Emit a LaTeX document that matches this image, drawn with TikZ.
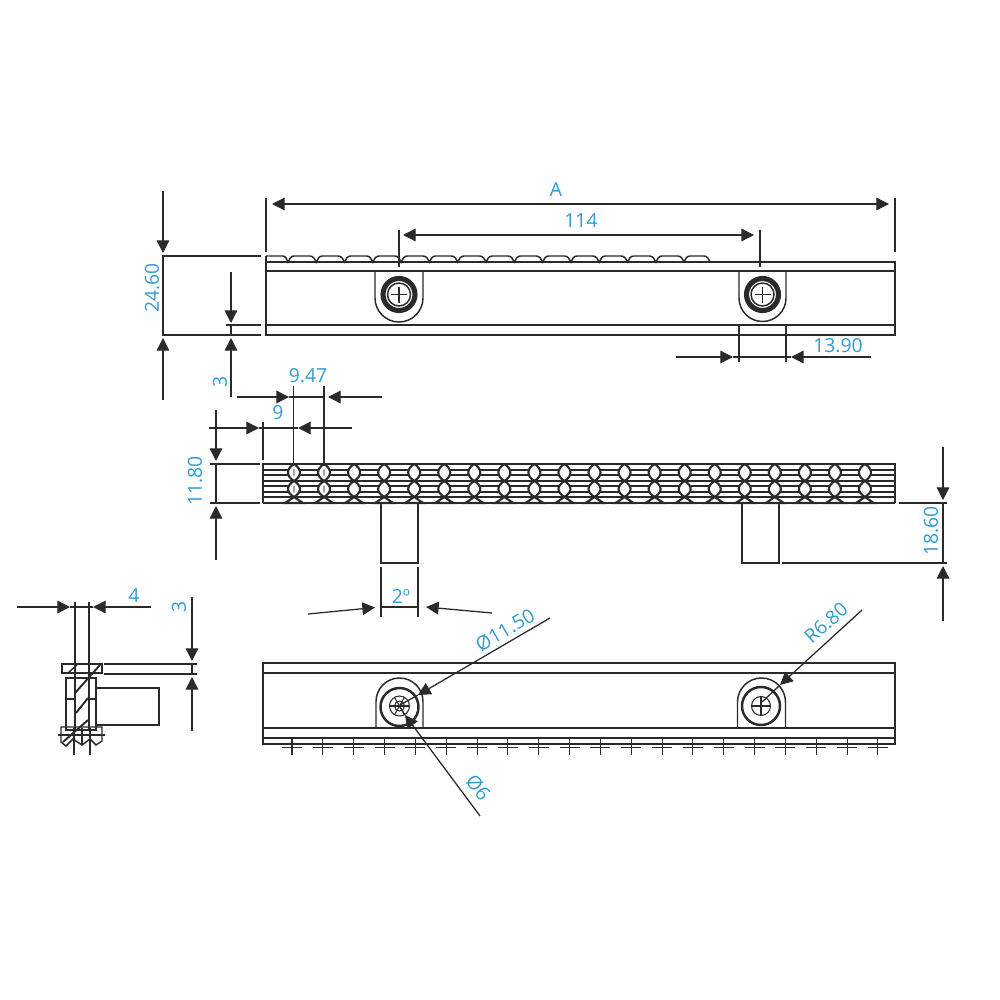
\documentclass[tikz,border=0pt]{standalone}
\usepackage{fontspec}
\setmainfont{Open Sans}
\usetikzlibrary{arrows.meta}
\definecolor{dimblue}{HTML}{2F9BD3}
\definecolor{ink}{HTML}{2A2A2A}
\tikzset{
  part/.style={draw=ink, line width=0.42pt},
  thin part/.style={draw=ink, line width=0.3pt},
  bead/.style={draw=ink, fill=white, line width=0.6pt},
  dimline/.style={draw=ink, line width=0.36pt},
  dimarrow/.style={dimline, -{Triangle[length=3.6pt,width=3.6pt]}},
  dimtext/.style={text=dimblue, font=\fontsize{5.5}{6}\selectfont, inner sep=0pt},
}
\begin{document}
\begin{tikzpicture}[x=0.01cm,y=-0.01cm]
\useasboundingbox (0,0) rectangle (1000,1000);
% top view
\draw[part] (710,262)-- (895,262)-- (895,335)-- (266,335)-- (266,256);
\draw[part] (266,262)-- (895,262);
\draw[part] (266,271)-- (895,271);
\draw[part] (266,325)-- (895,325);
\draw[part] (266,256)-- (283,256) .. controls (285,256) and (287,259) .. (288,262);
\foreach \n [evaluate=\n as \bx using 288+28.3*\n] in {0,...,13}{
  \draw[part] (\bx,262) .. controls ({\bx+1},259) and ({\bx+3},256) .. ({\bx+6},256)-- ({\bx+22},256) .. controls ({\bx+25},256) and ({\bx+27},259) .. ({\bx+28.3},262);
  \fill[ink] (\bx,262) circle (1.6);
}
\draw[part] (684,262) .. controls (685,259) and (687,256) .. (690,256)-- (704,256) .. controls (707,256) and (709,259) .. (710,262);
\foreach \sx/\sr in {399/24,762.5/23.5}{
  \draw[part] ({\sx-\sr},271)-- ({\sx-\sr},298) arc (180:0:\sr)-- ({\sx+\sr},271);
  \draw[draw=ink, line width=1.45pt] (\sx,294.5) circle (16);
  \draw[part] (\sx,294.5) circle (11.5);
  \draw[thin part] ({\sx-8},294.5)-- ({\sx+8},294.5) (\sx,286.5)-- (\sx,302.5);
}
\draw[dimline] (739,325)-- (739,362);
\draw[dimline] (786,325)-- (786,362);
% top view dimensions
\draw[dimline] (266,198)-- (266,252) (895,198)-- (895,252);
\draw[dimarrow] (556,204)-- (272,204);
\draw[dimarrow] (556,204)-- (889,204);
\node[dimtext] (labela) at (556,190) {A};
\draw[dimline] (399,230)-- (399,267) (760,230)-- (760,267);
\draw[dimarrow] (581,235)-- (403,235);
\draw[dimarrow] (581,235)-- (754,235);
\node[dimtext] (label114) at (581,221) {114};
\draw[dimline] (162,256)-- (261,256) (162,335)-- (261,335) (226,325)-- (261,325);
\draw[dimline] (163,256)-- (163,335) (231,325)-- (231,335);
\draw[dimarrow] (163,191)-- (163,253);
\draw[dimarrow] (163,400)-- (163,338);
\draw[dimarrow] (231,272)-- (231,323);
\draw[dimarrow] (231,397)-- (231,338);
\node[dimtext, rotate=90] (label2460) at (152,288) {24.60};
\node[dimtext, rotate=90] (label3a) at (220,382) {3};
\draw[dimarrow] (676,357)-- (733,357);
\draw[dimarrow] (871,357)-- (791,357);
\draw[dimline] (733,357)-- (791,357);
\node[dimtext] (label1390) at (838,346) {13.90};
% front view
\foreach \ly in {470,475,481,486,492,497}{
  \draw[thin part] (263,\ly)-- (895,\ly);
}
\draw[part] (263,503)-- (263,464)-- (895,464)-- (895,503);
\foreach \n [evaluate=\n as \bx using 294+30.05*\n] in {0,...,19}{
  \draw[bead] (\bx,464) .. controls ({\bx-8},469) and ({\bx-8},476) .. (\bx,481) .. controls ({\bx+8},476) and ({\bx+8},469) .. (\bx,464);
  \draw[bead] (\bx,481) .. controls ({\bx-8},486) and ({\bx-8},492) .. (\bx,497) .. controls ({\bx+8},492) and ({\bx+8},486) .. (\bx,481);
  \draw[bead] (\bx,497)-- ({\bx-9},503)-- ({\bx+9},503)-- cycle;
}
\foreach \bx in {294,324}{
  \fill[black!35] (\bx,472.5) ellipse (1.2 and 4);
  \fill[black!35] (\bx,489) ellipse (1.2 and 4);
}
\draw[draw=ink, line width=0.6pt] (263,503)-- (895,503);
\draw[part] (381,503)-- (381,563)-- (418,563)-- (418,503);
\draw[part] (742,503)-- (742,563)-- (779,563)-- (779,503);
% front view dimensions
\draw[dimline] (293.5,386)-- (293.5,466) (324,386)-- (324,466);
\draw[dimarrow] (237,397)-- (289,397);
\draw[dimarrow] (382,397)-- (328,397);
\draw[dimline] (289,397)-- (324,397);
\node[dimtext] (label947) at (308,376) {9.47};
\draw[dimline] (263,422)-- (263,460);
\draw[dimarrow] (209,428)-- (259,428);
\draw[dimarrow] (352,428)-- (298,428);
\draw[dimline] (259,428)-- (298,428);
\node[dimtext] (label9) at (278,413) {9};
\draw[dimline] (210,464)-- (260,464) (210,503)-- (260,503) (216,464)-- (216,503);
\draw[dimarrow] (216,410)-- (216,461);
\draw[dimarrow] (216,560)-- (216,506);
\node[dimtext, rotate=90] (label1180) at (195,481) {11.80};
\draw[dimline] (899,503)-- (947,503) (782,563)-- (947,563) (943,503)-- (943,563);
\draw[dimarrow] (943,447)-- (943,500);
\draw[dimarrow] (943,621)-- (943,566);
\node[dimtext, rotate=90] (label1860) at (931,531) {18.60};
\draw[dimline] (381,567)-- (381,617) (418,567)-- (418,617) (381,607)-- (418,607);
\draw[dimarrow] (308,614)-- (375,607.5);
\draw[dimarrow] (492,613)-- (426,607);
\node[dimtext] (label2deg) at (401,596) {2º};
% bottom view
\draw[part] (263,663) rectangle (895,744);
\draw[part] (263,673)-- (895,673);
\draw[part] (263,728)-- (895,728);
\draw[part] (263,738)-- (895,738);
\foreach \n [evaluate=\n as \bx using 292+30.84*\n] in {0,...,19}{
  \draw[thin part] (\bx,738)-- (\bx,755) ({\bx-10},747.5)-- ({\bx+10},747.5);
}
\draw[part] (376,728)-- (376,701.5) arc (180:360:23.5)-- (423,728);
\draw[part] (737.5,728)-- (737.5,702) arc (180:360:24)-- (785.5,728);
\draw[draw=ink, line width=0.7pt] (399.5,707) circle (19);
\draw[draw=ink, line width=0.7pt] (761,706) circle (19);
\draw[thin part] (399.5,706) circle (10) (399.5,706) circle (5);
\foreach \ang in {0,60,120}{
  \draw[thin part] (399.5,706) ++(\ang:10)-- ++({\ang+180}:20);
}
\draw[thin part] (761,706) circle (9.5);
\draw[thin part] (751.5,706)-- (770.5,706) (761,696.5)-- (761,715.5);
% bottom view dimensions
\draw[dimline] (418,695)-- (400,705);
\draw[dimarrow] (550,618)-- (418,695);
\draw[dimline] (405,715)-- (400,707);
\draw[dimarrow] (480,816)-- (405,715);
\draw[dimline] (780,685)-- (762,702);
\draw[dimarrow] (862,610)-- (780,685);
\node[dimtext, rotate=30] (label1150) at (505,630) {Ø11.50};
\node[dimtext, rotate=-52] (label6) at (478,788) {Ø6};
\node[dimtext, rotate=42] (label680) at (826,623) {R6.80};
% side view
\draw[part] (62,664) rectangle (102,673);
\draw[part] (66,678) rectangle (96,730);
\draw[part] (66,699)-- (75,699) (88,699)-- (96,699);
\draw[part] (96,688)-- (159,688)-- (159,725)-- (96,725);
\draw[part] (75,602)-- (75,730) (89,602)-- (89,730);
\draw[part] (68,673)-- (77,665);
\draw[draw=ink, line width=0.55pt] (75,693)-- (100,665) (76,713)-- (88,698) (63,742)-- (88,720);
\draw[part] (61,727)-- (61,742)-- (66,746)-- (73,739)-- (82,745)-- (90,739)-- (96,745)-- (102,741)-- (102,727)-- cycle;
\draw[thin part] (58,735)-- (105,735);
\draw[thin part] (74,728)-- (74,755) (82,728)-- (82,745) (90,728)-- (90,755);
% side view dimensions
\draw[dimarrow] (17,607)-- (70,607);
\draw[dimarrow] (151,607)-- (93,607);
\draw[dimline] (70,607)-- (93,607);
\node[dimtext] (label4) at (134,596) {4};
\draw[dimline] (104,664)-- (197,664) (104,674)-- (197,674) (192,664)-- (192,674);
\draw[dimarrow] (192,597)-- (192,661);
\draw[dimarrow] (192,731)-- (192,677);
\node[dimtext, rotate=90] (label3b) at (179,607) {3};
\end{tikzpicture}
\end{document}
